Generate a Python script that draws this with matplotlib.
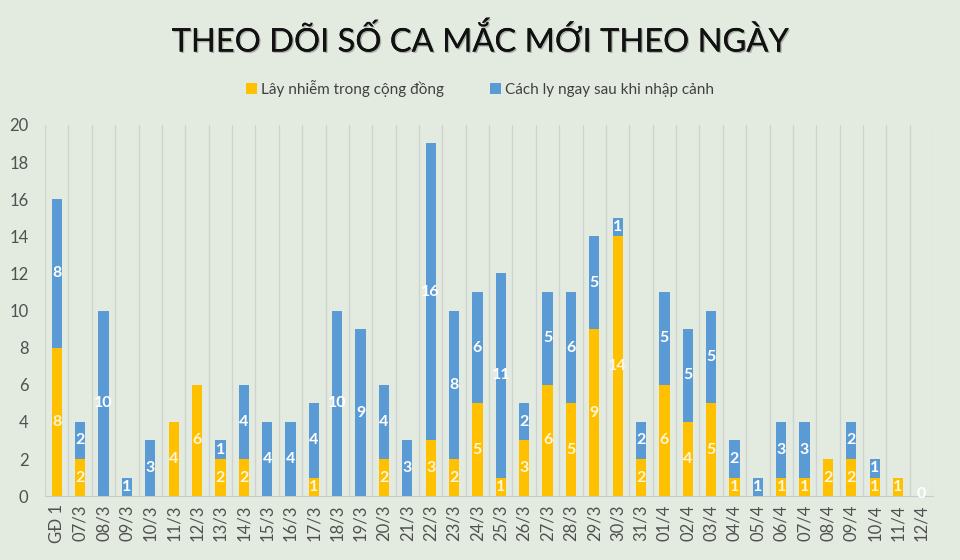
import matplotlib
matplotlib.use("Agg")
import matplotlib.pyplot as plt
import matplotlib.patheffects as pe
import numpy as np

plt.rcParams['font.family'] = ['Lato', 'Open Sans', 'DejaVu Sans']

# data
days = ["GĐ 1", "07/3", "08/3", "09/3", "10/3", "11/3", "12/3", "13/3", "14/3",
        "15/3", "16/3", "17/3", "18/3", "19/3", "20/3", "21/3", "22/3", "23/3",
        "24/3", "25/3", "26/3", "27/3", "28/3", "29/3", "30/3", "31/3", "01/4",
        "02/4", "03/4", "04/4", "05/4", "06/4", "07/4", "08/4", "09/4", "10/4",
        "11/4", "12/4"]
community = [8, 2, 0, 0, 0, 4, 6, 2, 2, 0, 0, 1, 0, 0, 2, 0, 3, 2, 5, 1, 3, 6,
             5, 9, 14, 2, 6, 4, 5, 1, 0, 1, 1, 2, 2, 1, 1, 0]
quarantine = [8, 2, 10, 1, 3, 0, 0, 1, 4, 4, 4, 4, 10, 9, 4, 3, 16, 8, 6, 11, 2,
              5, 6, 5, 1, 2, 5, 5, 5, 2, 1, 3, 3, 0, 2, 1, 0, 0]

orange = "#FFC000"
blue = "#5B9BD5"
bg = "#e3ebe1"

fig = plt.figure(figsize=(9.6, 5.6), dpi=100, facecolor=bg)
ax = fig.add_axes([0.047, 0.114, 0.925, 0.663])
ax.set_facecolor(bg)

x = np.arange(len(days))
w = 0.44
ax.bar(x, community, w, color=orange, zorder=3, label="Lây nhiễm trong cộng đồng")
ax.bar(x, quarantine, w, bottom=community, color=blue, zorder=3,
       label="Cách ly ngay sau khi nhập cảnh")

for i in x:
    c, q = community[i], quarantine[i]
    if c:
        ax.text(i, c / 2, str(c), ha="center", va="center", color="#fff6dc",
                fontsize=11.5, fontweight="bold", zorder=4)
    if q:
        ax.text(i, c + q / 2, str(q), ha="center", va="center", color="white",
                fontsize=11.5, fontweight="bold", zorder=4)
    if c == 0 and q == 0:
        ax.text(i, 0.1, "0", ha="center", va="center", color="white",
                fontsize=11.5, fontweight="bold", zorder=4)

ax.set_xlim(-0.5, len(days) - 0.5)
ax.set_ylim(0, 20)
ax.set_yticks(range(0, 21, 2))
ax.set_xticks(x)
ax.set_xticklabels(days, rotation=90, fontsize=12, color="#505050")
ax.tick_params(axis="y", labelsize=12, colors="#505050", length=0, pad=12)
ax.tick_params(axis="x", length=0, pad=6)

for b in np.arange(-0.5, len(days), 1.0):
    ax.axvline(b, color="#cfd3cf", lw=1, zorder=1)
for s in ["top", "right", "left"]:
    ax.spines[s].set_visible(False)
ax.spines["bottom"].set_color("#c8ccc8")

fig.text(0.5, 0.928, "THEO DÕI SỐ CA MẮC MỚI THEO NGÀY", ha="center", va="center",
         fontsize=23.5, fontweight="normal", color="#111111",
         path_effects=[pe.withSimplePatchShadow(offset=(1, -1), alpha=0.25),
                       pe.Normal()])

fig.legend(loc="center", bbox_to_anchor=(0.5, 0.842), ncol=2, frameon=False,
           fontsize=11, handlelength=0.7, handleheight=0.7, handletextpad=0.3,
           columnspacing=3, labelcolor="#404040")

fig.savefig("out.png", dpi=100, facecolor=bg)
